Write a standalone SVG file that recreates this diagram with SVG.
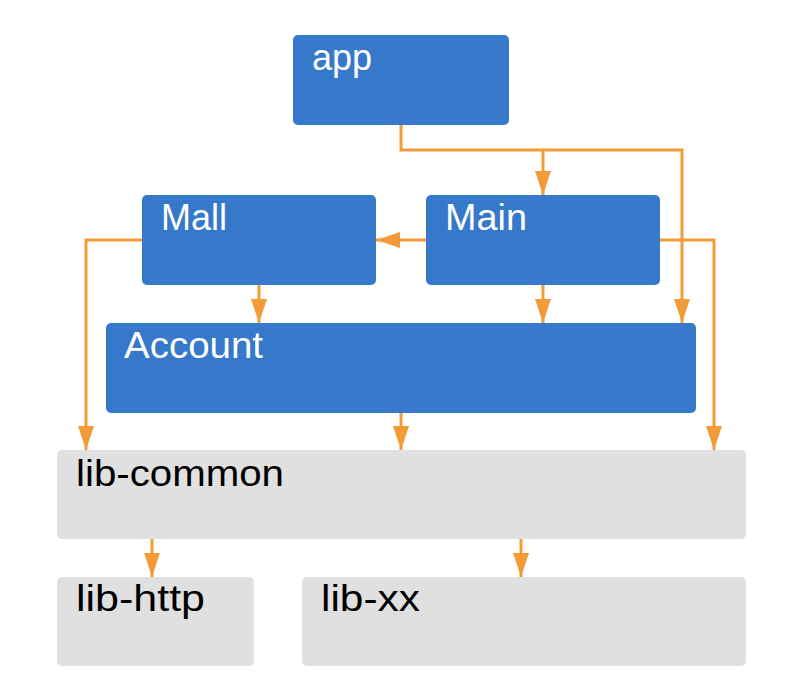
<svg xmlns="http://www.w3.org/2000/svg" width="810" height="692" viewBox="0 0 810 692">
<style>
.blue{fill:#3679CA}
.grey{fill:#E0E0E0}
.wt{fill:#FFFFFF;font-family:"Liberation Sans",Arial,sans-serif;font-size:36px}
.bt{fill:#000000;font-family:"Liberation Sans",Arial,sans-serif;font-size:36px}
.conn{fill:none;stroke:#F29C38;stroke-width:3;stroke-linejoin:miter}
</style>
<defs>
<marker id="arr" markerUnits="userSpaceOnUse" markerWidth="24" markerHeight="16" refX="24" refY="8" orient="auto" overflow="visible">
<path d="M0,0 L24,8 L0,16 Z" fill="#F29C38"/>
</marker>
</defs>
<rect width="810" height="692" fill="#FFFFFF"/>
<g id="app"><rect class="blue" x="293" y="35" width="216" height="90" rx="5"/><text class="wt" x="312" y="70">app</text></g>
<g id="mall"><rect class="blue" x="142" y="195" width="234" height="90" rx="5"/><text class="wt" x="161" y="230">Mall</text></g>
<g id="main"><rect class="blue" x="426" y="195" width="234" height="90" rx="5"/><text class="wt" x="445" y="230" textLength="82" lengthAdjust="spacingAndGlyphs">Main</text></g>
<g id="account"><rect class="blue" x="106" y="323" width="590" height="90" rx="5"/><text class="wt" x="124" y="358" textLength="139" lengthAdjust="spacingAndGlyphs">Account</text></g>
<g id="lib-common"><rect class="grey" x="57" y="450" width="689" height="89" rx="5"/><text class="bt" x="76" y="486" textLength="208" lengthAdjust="spacingAndGlyphs">lib-common</text></g>
<g id="lib-http"><rect class="grey" x="57" y="577" width="197" height="89" rx="5"/><text class="bt" x="76" y="611" textLength="129" lengthAdjust="spacingAndGlyphs">lib-http</text></g>
<g id="lib-xx"><rect class="grey" x="302" y="577" width="444" height="89" rx="5"/><text class="bt" x="321" y="611" textLength="99" lengthAdjust="spacingAndGlyphs">lib-xx</text></g>
<g id="connectors">
<path class="conn" d="M401,125 V150 H543 V195" marker-end="url(#arr)"/>
<path class="conn" d="M543,150 H682 V323" marker-end="url(#arr)"/>
<path class="conn" d="M426,240 H376" marker-end="url(#arr)"/>
<path class="conn" d="M543,285 V323" marker-end="url(#arr)"/>
<path class="conn" d="M660,240 H714 V450" marker-end="url(#arr)"/>
<path class="conn" d="M142,240 H86 V450" marker-end="url(#arr)"/>
<path class="conn" d="M259,285 V323" marker-end="url(#arr)"/>
<path class="conn" d="M401,413 V450" marker-end="url(#arr)"/>
<path class="conn" d="M152,539 V577" marker-end="url(#arr)"/>
<path class="conn" d="M521,539 V577" marker-end="url(#arr)"/>
</g>
</svg>
